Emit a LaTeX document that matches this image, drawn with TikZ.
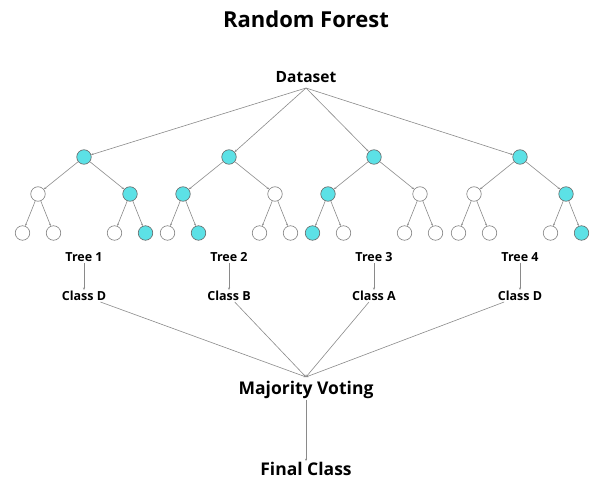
\documentclass[tikz,border=0pt]{standalone}
\usepackage{fontspec}
\setmainfont{Open Sans}
\usetikzlibrary{arrows.meta}
\definecolor{cyanfill}{HTML}{5CE1E6}
\definecolor{edgegray}{HTML}{8A8A8A}
\tikzset{
  leaf/.style={circle,draw=gray,line width=0.6pt,fill=white,minimum size=14.5pt,inner sep=0pt},
  hit/.style={circle,draw=gray!80!black,line width=0.6pt,fill=cyanfill,minimum size=14.5pt,inner sep=0pt},
  edge/.style={draw=edgegray,line width=0.6pt,-{Stealth[length=2.5pt,width=2pt]},shorten >=0pt},
  lbl/.style={font=\bfseries\fontsize{12.5}{14}\selectfont,inner sep=1pt},
  big/.style={font=\bfseries\fontsize{17.5}{19}\selectfont,inner sep=1pt},
}
\begin{document}
\begin{tikzpicture}[x=1pt,y=-1pt]
\useasboundingbox (0,0) rectangle (592,484);
\node[font=\bfseries\fontsize{22}{24}\selectfont] (title) at (306,19) {Random Forest};
\node[font=\bfseries\fontsize{15.5}{17}\selectfont,inner sep=1pt] (data) at (306,77) {Dataset};
\coordinate (dsrc) at (306,88);
\foreach \t/\x/\ra/\rb/\la/\lb/\lc/\ld/\cls in {
  1/84/leaf/hit/leaf/leaf/leaf/hit/D,
  2/229/hit/leaf/leaf/hit/leaf/leaf/B,
  3/374/hit/leaf/hit/leaf/leaf/leaf/A,
  4/520/leaf/hit/leaf/leaf/leaf/hit/D}{
  \node[hit] (r\t) at (\x,157) {};
  \node[\ra] (a\t) at (\x-46,194) {};
  \node[\rb] (b\t) at (\x+46,194) {};
  \node[\la] (c\t) at (\x-61.5,233) {};
  \node[\lb] (d\t) at (\x-30.5,233) {};
  \node[\lc] (e\t) at (\x+30.5,233) {};
  \node[\ld] (f\t) at (\x+61.5,233) {};
  \draw[edge] (r\t) -- (a\t);
  \draw[edge] (r\t) -- (b\t);
  \draw[edge] (a\t) -- (c\t);
  \draw[edge] (a\t) -- (d\t);
  \draw[edge] (b\t) -- (e\t);
  \draw[edge] (b\t) -- (f\t);
  \draw[edge] (dsrc) -- (r\t);
  \node[lbl] (tree\t) at (\x,257) {Tree \t};
  \node[lbl] (cls\t) at (\x,296) {Class \cls};
  \draw[edge] (tree\t) -- (cls\t);
}
\node[big] (mv) at (306,390) {Majority Voting};
\coordinate (mvin) at (306,377);
\foreach \t in {1,2,3,4}{\draw[edge] (cls\t) -- (mvin);}
\node[big] (fin) at (306,469) {Final Class};
\draw[edge] (mv) -- (fin);
\end{tikzpicture}
\end{document}
